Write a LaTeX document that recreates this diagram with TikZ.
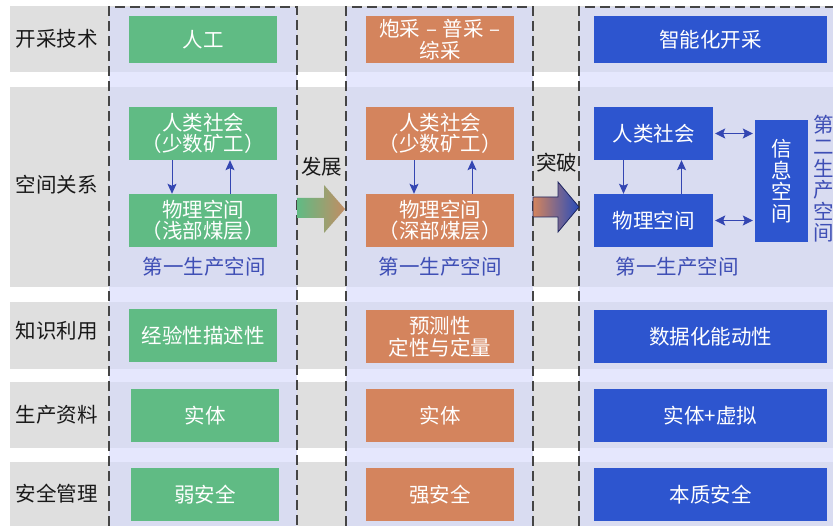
\documentclass[tikz,border=0pt]{standalone}
\usepackage{fontspec}
\setmainfont{Liberation Serif}
\newfontfamily\cjk{Noto Sans CJK SC}
\usetikzlibrary{arrows.meta,calc}
\definecolor{rowgray}{HTML}{DFDFDF}
\definecolor{panel}{HTML}{D9DCF1}
\definecolor{panelgap}{HTML}{E5E7FD}
\definecolor{cgreen}{HTML}{60BB84}
\definecolor{corange}{HTML}{D4845D}
\definecolor{cblue}{HTML}{2D55CF}
\definecolor{lineblue}{HTML}{3446B2}
\definecolor{txtblue}{HTML}{3E4EB5}
\definecolor{dashgray}{HTML}{454545}
\definecolor{navy}{HTML}{1D2560}
\begin{document}
\begin{tikzpicture}[x=1pt,y=-1pt,
  box/.style={minimum width=148pt, minimum height=53pt, inner sep=0pt, text=white, align=center,
    font=\cjk\fontsize{20.5pt}{21.5pt}\selectfont},
  rowlabel/.style={inner sep=0pt, text=black!90, font=\cjk\fontsize{20.5pt}{21pt}\selectfont},
  spacelabel/.style={inner sep=0pt, text=txtblue, align=center, font=\cjk\fontsize{20.5pt}{21.6pt}\selectfont},
  arrowlabel/.style={inner sep=0pt, text=black!90, font=\cjk\fontsize{20.5pt}{21pt}\selectfont},
  vlink/.style={lineblue, line width=1pt, -{Stealth[length=10pt,width=9pt,inset=2pt]}},
  dlink/.style={lineblue, line width=1.2pt, {Stealth[length=10pt,width=10pt,inset=2pt]}-{Stealth[length=10pt,width=10pt,inset=2pt]}},
  panelborder/.style={dashgray, line width=1.4pt, dash pattern=on 10pt off 5pt}]
\useasboundingbox (0,0) rectangle (833,526);
\fill[white] (0,0) rectangle (833,526);
% gray rows
\foreach \a/\b in {6/72, 87/287, 302/369, 382/448, 462/526}
  \fill[rowgray] (10,\a) rectangle (833,\b);
% panels
\foreach \l/\r in {109/297, 346/533, 579/833}{
  \fill[panelgap] (\l,7) rectangle (\r,526);
  \foreach \a/\b in {7/72, 87/287, 302/369, 382/448, 462/526}
    \fill[panel] (\l,\a) rectangle (\r,\b);
}
\draw[panelborder] (109,526) -- (109,7) -- (297,7) -- (297,526);
\draw[panelborder] (346,526) -- (346,7) -- (533,7) -- (533,526);
\draw[panelborder] (579,526) -- (579,7) -- (834,7);

% row labels
\node[rowlabel] (l1) at (57,39) {开采技术};
\node[rowlabel] (l2) at (57,185) {空间关系};
\node[rowlabel] (l3) at (57,331) {知识利用};
\node[rowlabel] (l4) at (57,415) {生产资料};
\node[rowlabel] (l5) at (57,494) {安全管理};

% column 1
\node[box, fill=cgreen, minimum height=47pt] (a1) at (203,39.5) {人工};
\node[box, fill=cgreen] (ah) at (203,133.5) {人类社会\\（少数矿工）};
\node[box, fill=cgreen] (ap) at (203,220.5) {物理空间\\（浅部煤层）};
\node[spacelabel] (as) at (204,267) {第一生产空间};
\node[box, fill=cgreen] (a3) at (203,335.5) {经验性描述性};
\node[box, fill=cgreen] (a4) at (205,415.5) {实体};
\node[box, fill=cgreen] (a5) at (205,494.5) {弱安全};
\draw[vlink] ([xshift=-31pt]ah.south) -- ([xshift=-31pt]ap.north);
\draw[vlink] ([xshift=27pt]ap.north) -- ([xshift=27pt]ah.south);

% column 2
\node[box, fill=corange, minimum height=47pt] (b1) at (440,39.5) {炮采\;–\;普采\;–\\综采};
\node[box, fill=corange] (bh) at (440,133.5) {人类社会\\（少数矿工）};
\node[box, fill=corange] (bp) at (440,220.5) {物理空间\\（深部煤层）};
\node[spacelabel] (bs) at (440,267) {第一生产空间};
\node[box, fill=corange] (b3) at (440,336.5) {预测性\\定性与定量};
\node[box, fill=corange] (b4) at (440,415.5) {实体};
\node[box, fill=corange] (b5) at (440,494.5) {强安全};
\draw[vlink] ([xshift=-26pt]bh.south) -- ([xshift=-26pt]bp.north);
\draw[vlink] ([xshift=32pt]bp.north) -- ([xshift=32pt]bh.south);

% column 3
\node[box, fill=cblue, minimum width=233pt, minimum height=47pt] (c1) at (710.5,39.5) {智能化开采};
\node[box, fill=cblue, minimum width=119pt] (ch) at (653.5,133.5) {人类社会};
\node[box, fill=cblue, minimum width=119pt] (cp) at (653.5,220.5) {物理空间};
\node[box, fill=cblue, minimum width=53pt, minimum height=122pt] (ci) at (781.5,181) {信\\息\\空\\间};
\node[spacelabel] (cs) at (677,267) {第一生产空间};
\node[spacelabel] (c2s) at (823.5,179) {第\\二\\生\\产\\空\\间};
\node[box, fill=cblue, minimum width=233pt] (c3) at (710.5,336.5) {数据化能动性};
\node[box, fill=cblue, minimum width=233pt] (c4) at (710.5,415.5) {实体+虚拟};
\node[box, fill=cblue, minimum width=233pt] (c5) at (710.5,494.5) {本质安全};
\draw[vlink] ([xshift=-30pt]ch.south) -- ([xshift=-30pt]cp.north);
\draw[vlink] ([xshift=28pt]cp.north) -- ([xshift=28pt]ch.south);
\draw[dlink] ([xshift=2pt]ch.east) -- ([xshift=-2pt]ch.east -| ci.west);
\draw[dlink] ([xshift=2pt]cp.east) -- ([xshift=-2pt]cp.east -| ci.west);

% transition arrows
\shade[left color=cgreen, right color=corange!85!cgreen] (297,198) -- (324,198) -- (324,185) -- (345,209) -- (324,233) -- (324,218) -- (297,218) -- cycle;
\node[arrowlabel] (t1) at (321.5,167) {发展};
\shade[left color=corange, right color=cblue!90!black, draw=navy, line width=0.8pt] (533,197) -- (558,197) -- (558,182) -- (579,207) -- (558,232) -- (558,217) -- (533,217) -- cycle;
\node[arrowlabel] (t2) at (556.5,163) {突破};
\end{tikzpicture}
\end{document}
